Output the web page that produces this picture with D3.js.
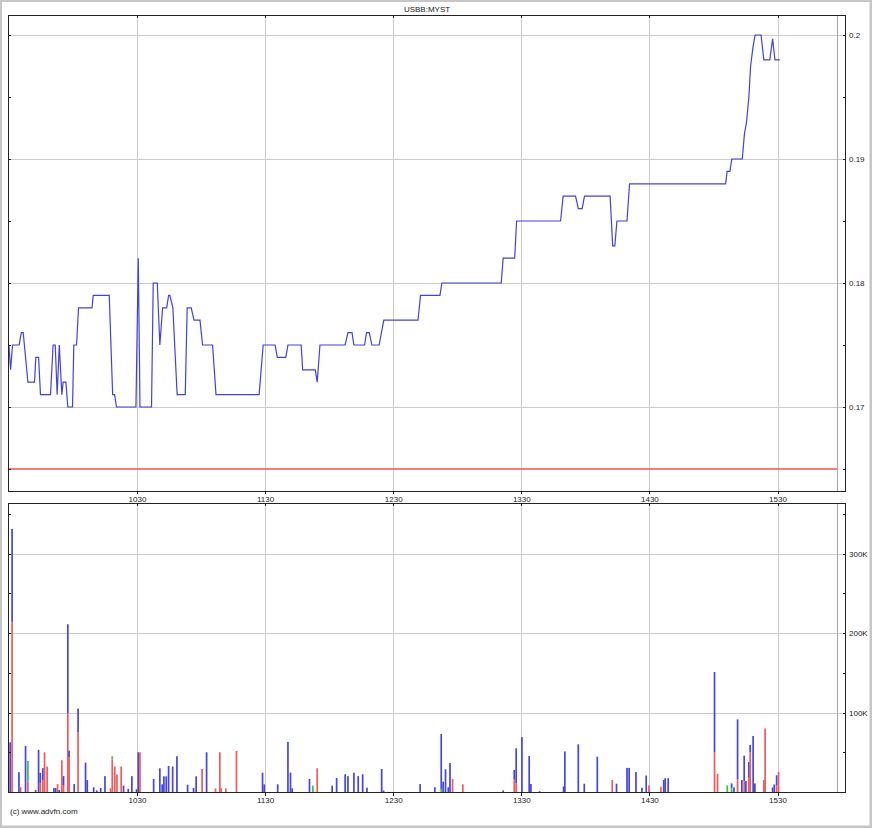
<!DOCTYPE html>
<html><head><meta charset="utf-8">
<script src="https://cdn.jsdelivr.net/npm/d3@7"></script>
<style>
body{margin:0;background:#fff}
svg{display:block}
text{font-family:"Liberation Sans",Arial,sans-serif;font-size:8px;fill:#222}
</style>
</head><body><svg id="c" width="872" height="828"></svg>
<script>
// ---------- data ----------
const title = "USBB:MYST";
const copyright = "(c) www.advfn.com";
// minutes after 09:30
const timeTicks = [60, 120, 180, 240, 300, 360];
const timeTickLabels = ["1030", "1130", "1230", "1330", "1430", "1530"];
const priceTicks = [0.17, 0.18, 0.19, 0.2];
const priceTickLabels = ["0.17", "0.18", "0.19", "0.2"];
const volTicks = [100, 200, 300]; // thousands
const volTickLabels = ["100K", "200K", "300K"];
const prevClose = 0.165;
const sessionEnd = 388; // minutes after 09:30

const priceMinutes = [0,0.8,1.7,4.8,5.8,6.7,8.9,12.0,12.6,13.9,14.8,19.5,20.7,21.7,22.6,23.6,24.8,25.4,26.7,27.6,
  29.8,30.4,31.7,32.6,38.9,39.5,47.0,48.6,49.5,50.4,59.5,60.6,61.4,66.8,67.6,69.5,70.7,72.0,73.9,74.8,
  75.4,76.8,78.8,82.6,83.5,85.4,86.7,89.5,90.7,95.4,97.0,117.2,119.1,124.7,125.7,129.7,130.7,136.9,137.6,143.5,
  144.4,145.7,157.5,158.8,160.7,161.6,166.6,167.5,168.8,170.0,173.4,175.6,191.6,192.8,201.9,202.8,230.6,231.5,236.9,237.8,
  258.4,259.6,265.4,266.7,268.5,269.6,281.6,282.8,283.8,284.8,289.5,290.7,335.7,336.4,337.7,338.6,343.5,344.5,345.5,346.6,
  347.4,348.5,349.5,352.3,353.6,356.4,357.7,358.8,361.1];
const prices = [.175,.173,.175,.175,.176,.176,.172,.172,.174,.174,.171,.171,.175,.175,.171,.175,.171,.172,.172,.170,
  .170,.175,.175,.178,.178,.179,.179,.171,.171,.170,.170,.182,.170,.170,.180,.180,.175,.178,.178,.179,
  .179,.178,.171,.171,.178,.178,.177,.177,.175,.175,.171,.171,.175,.175,.174,.174,.175,.175,.173,.173,
  .172,.175,.175,.176,.176,.175,.175,.176,.176,.175,.175,.177,.177,.179,.179,.180,.180,.182,.182,.185,
  .185,.187,.187,.186,.186,.187,.187,.183,.183,.185,.185,.188,.188,.189,.189,.190,.190,.192,.193,.195,
  .1975,.199,.200,.200,.198,.198,.1997,.198,.198];

const volMinutes = [0.6,1.5,4.7,5.5,7.8,8.9,12.5,13.9,14.7,15.9,
  16.7,17.9,21.1,21.9,22.8,23.6,24.8,25.6,27.6,28.2,
  30.6,32.4,35.9,36.7,39.7,41.2,43.0,45.0,47.6,48.4,
  49.6,50.6,52.6,53.7,55.9,57.6,59.8,60.6,61.4,67.8,
  70.7,71.8,72.6,73.7,74.8,76.7,78.7,83.7,86.5,87.7,
  90.5,92.6,96.8,98.8,99.4,101.6,106.6,118.8,119.6,125.9,
  130.7,131.9,132.7,140.8,142.4,144.4,151.4,153.5,157.5,158.8,
  161.6,163.6,165.7,167.7,174.6,175.5,192.6,199.5,202.5,203.4,
  204.5,205.8,206.6,207.8,212.6,231.5,236.7,237.6,240.3,243.7,
  244.5,248.6,259.8,260.4,266.7,269.5,275.6,282.6,284.6,289.5,
  290.5,293.7,296.5,298.5,299.8,305.4,306.7,307.4,308.8,330.5,
  331.9,336.5,338.5,339.6,341.3,343.3,344.4,345.2,346.6,347.2,
  348.6,349.4,353.6,354.2,357.7,358.5,359.6,360.5];
// volume in thousands, stacked red (bottom), green, blue (top)
const volRed = [0,214,0,6,0,13,0,0,11,15,
  50,32,0,0,10,0,40,8,99,44,
  0,75,0,0,0,0,0,0,4.6,41,
  32,22,32,0,0,0,0,0,50,0,
  0,0,0,0,0,0,0,0,0,0,
  29,0,4.6,50,4.6,4.6,51.6,0,0,0,
  0,0,0,0,0,29.8,0,0,0,0,
  0,0,0,0,0,0,0,0,0,0,
  0,0,0,16.4,9.7,0,16.4,11,0,0,
  0,0,0,0,0,0,0,15,0,0,
  0,0,0,0,8.3,6.6,0,0,0,50,
  23,0,0,0,15.8,0,13.7,0,17.8,50,
  0,0,15,80,0,0,8,25.3];
const volGreen = [0,0,0,0,0,26,0,0,0,0,
  0,0,0,0,0,0,0,0,0,0,
  0,0,0,0,0,0,0,0,0,4,
  0,0,0,0,0,0,0,0,0,0,
  0,0,0,0,0,0,0,0,0,0,
  0,0,0,0,0,0,0,0,0,0,
  0,0,0,0,8,0,0,0,0,0,
  0,0,0,0,0,0,0,0,3,0,
  0,0,0,0,0,0,0,0,0,0,
  0,0,0,0,0,0,0,0,0,0,
  0,0,0,0,0,0,0,0,0,0,
  0,8.3,5,0,0,0,0,0,0,0,
  0,0,0,0,0,0,0,0];
const volBlue = [62.5,117,25,0,58,0,2.5,53,13,15,
  0,0,5,5,0,2.5,0,12,112,8,
  10,30,37,15,6,2,5,20,0,0,
  0,0,0,8,4,20,3.5,50,0,16.4,
  29.8,9.7,19.7,19.7,32.7,32,45,9.2,5,19.7,
  0,50,0,0,0,0,0,24.3,9.7,9.7,
  63,24.3,4.6,16.4,0,0,8,17.6,22.3,20,
  24.3,20,22.3,5.5,29,2,10,6,70,13,
  28.6,6,36.5,0,0,2,11.3,44,69,45.3,
  10,1,7,51,60,10.4,44.4,0,10.4,30.3,
  30.3,25,5.4,20.7,0,0,15,17.4,17.4,101,
  0,0,5.8,5.8,75.5,15,32,13.7,20,9.3,
  70.5,10.8,0,0,5.8,9.5,13,0];

// ---------- layout ----------
const W = 872, H = 828;
const L = 8, R = 846;
const P = {top: 15, bottom: 491};
const V = {top: 503, bottom: 792};
const GRID = "#cbcbcb", AXIS = "#222";

const svg = d3.select("#c");
svg.append("rect").attr("width", W).attr("height", H).attr("fill", "#c6c6c6");
svg.append("rect").attr("x", 2).attr("y", 2).attr("width", 867.5).attr("height", 823.5).attr("fill", "#fff");

const x = d3.scaleLinear().domain([0, 390]).range([8.9, 841.55]);
const yP = d3.scaleLinear().domain([0.17, 0.2]).range([407, 35]);
const yV = d3.scaleLinear().domain([0, 300]).range([792, 553.5]);

const defs = svg.append("defs");
defs.append("clipPath").attr("id", "cp").append("rect")
  .attr("x", L).attr("y", P.top).attr("width", R - L).attr("height", P.bottom - P.top);
defs.append("clipPath").attr("id", "cv").append("rect")
  .attr("x", L).attr("y", V.top).attr("width", R - L).attr("height", V.bottom - V.top);

const px = v => Math.round(v) + 0.5;

function panelGrid(top, bottom, ys) {
  const g = svg.append("g").attr("shape-rendering", "crispEdges");
  timeTicks.forEach(t => {
    g.append("line").attr("x1", px(x(t))).attr("x2", px(x(t))).attr("y1", top).attr("y2", bottom)
      .attr("stroke", GRID);
  });
  ys.forEach(yy => {
    g.append("line").attr("x1", L).attr("x2", R).attr("y1", px(yy)).attr("y2", px(yy))
      .attr("stroke", GRID);
  });
  g.append("line").attr("x1", px(x(sessionEnd))).attr("x2", px(x(sessionEnd)))
    .attr("y1", top).attr("y2", bottom).attr("stroke", "#a8a8a8");
}
panelGrid(P.top, P.bottom, priceTicks.map(yP));
panelGrid(V.top, V.bottom, volTicks.map(yV));

// ---------- price panel ----------
const gp = svg.append("g").attr("clip-path", "url(#cp)");
gp.append("line").attr("x1", L).attr("x2", x(sessionEnd))
  .attr("y1", yP(prevClose)).attr("y2", yP(prevClose))
  .attr("stroke", "#f05050").attr("stroke-width", 1.6);
const pts = priceMinutes.map((m, i) => [m, prices[i]]);
gp.append("path").datum(pts)
  .attr("d", d3.line().x(d => x(d[0])).y(d => yP(d[1])))
  .attr("fill", "none").attr("stroke", "#4141e0").attr("stroke-width", 1.2);

// ---------- volume panel ----------
const gv = svg.append("g").attr("clip-path", "url(#cv)");
const bw = 1.7;
volMinutes.forEach((m, i) => {
  const r = volRed[i], g = volGreen[i], b = volBlue[i];
  const segs = [[0, r, "#f05a5a"], [r, r + g, "#3fbf3f"], [r + g, r + g + b, "#4545e0"]];
  segs.forEach(([a, c, col]) => {
    if (c - a <= 0) return;
    gv.append("rect").attr("x", x(m) - bw / 2).attr("width", bw)
      .attr("y", yV(c)).attr("height", yV(a) - yV(c)).attr("fill", col);
  });
});

// ---------- frames & axes ----------
[[P.top, P.bottom], [V.top, V.bottom]].forEach(([t, b]) => {
  svg.append("rect").attr("x", L + 0.5).attr("y", t + 0.5).attr("width", R - L - 1).attr("height", b - t)
    .attr("fill", "none").attr("stroke", AXIS).attr("shape-rendering", "crispEdges");
});

function styleAxis(g) {
  g.select(".domain").remove();
  g.selectAll("line").attr("stroke", AXIS).attr("shape-rendering", "crispEdges");
  g.selectAll("text").attr("fill", "#222").style("font-size", "8px")
    .style("font-family", '"Liberation Sans",Arial,sans-serif');
}

const priceMinor = d3.range(0.165, 0.2001, 0.005);
const volMinor = d3.range(0, 360.1, 50);

// time axes (labels under each panel)
[[P.bottom, 0], [V.bottom + 0.5, 0]].forEach(([yy]) => {
  svg.append("g").attr("transform", `translate(0,${yy})`)
    .call(d3.axisBottom(x).tickValues(timeTicks)
      .tickFormat((d, i) => timeTickLabels[i]).tickSize(3).tickPadding(2))
    .call(styleAxis);
  // top-edge ticks
});
[P.top, V.top].forEach(yy => {
  svg.append("g").attr("transform", `translate(0,${yy + 1})`)
    .call(d3.axisBottom(x).tickValues(timeTicks).tickFormat("").tickSize(2))
    .call(styleAxis);
});

// price axes
svg.append("g").attr("transform", `translate(${R},0)`)
  .call(d3.axisRight(yP).tickValues(priceMinor).tickSize(-3).tickPadding(3)
    .tickFormat(d => {
      const k = priceTicks.findIndex(p => Math.abs(p - d) < 1e-6);
      return k >= 0 ? priceTickLabels[k] : "";
    }))
  .call(styleAxis);
svg.append("g").attr("transform", `translate(${L + 1},0)`)
  .call(d3.axisRight(yP).tickValues(priceMinor.filter(v => yP(v) > P.top)).tickSize(2).tickFormat(""))
  .call(styleAxis);

// volume axes
svg.append("g").attr("transform", `translate(${R},0)`)
  .call(d3.axisRight(yV).tickValues(volMinor.filter(v => yV(v) > V.top && v > 0)).tickSize(-3).tickPadding(3)
    .tickFormat(d => {
      const k = volTicks.indexOf(d);
      return k >= 0 ? volTickLabels[k] : "";
    }))
  .call(styleAxis);
svg.append("g").attr("transform", `translate(${L + 1},0)`)
  .call(d3.axisRight(yV).tickValues(volMinor.filter(v => yV(v) > V.top && v > 0)).tickSize(2).tickFormat(""))
  .call(styleAxis);

// texts
svg.append("text").attr("x", 427).attr("y", 12).attr("text-anchor", "middle").text(title);
svg.append("text").attr("x", 10).attr("y", 814).text(copyright);
</script>
</body></html>
